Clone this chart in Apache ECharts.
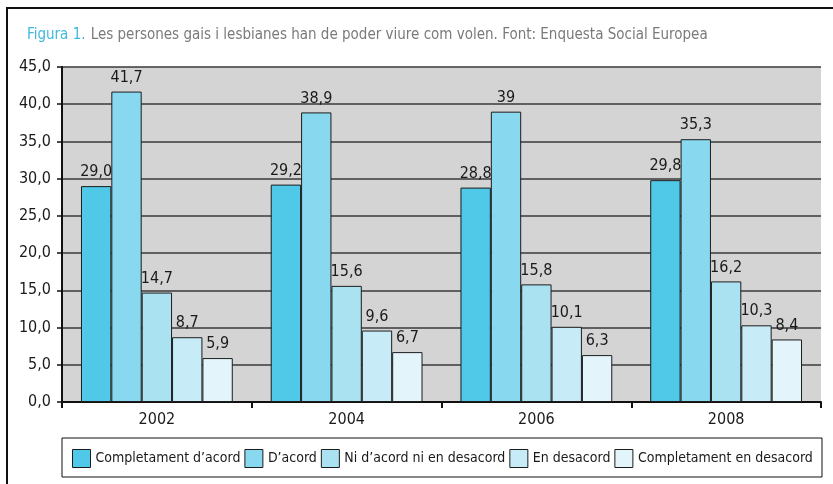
<!DOCTYPE html>
<html>
<head>
<meta charset="utf-8">
<script src="https://cdn.jsdelivr.net/npm/echarts@6/dist/echarts.min.js"></script>
<style>
    html, body { margin: 0; padding: 0; background: #fff; }
    #chart { width: 833px; height: 484px; }
</style>
</head>
<body>
<div id="chart"></div>
<script>
    // dades llegides de la figura
    var years = ['2002', '2004', '2006', '2008'];
    var seriesNames = ['Completament d\u2019acord', 'D\u2019acord', 'Ni d\u2019acord ni en desacord', 'En desacord', 'Completament en desacord'];
    var completAcord = [29.0, 29.2, 28.8, 29.8];
    var acord = [41.7, 38.9, 39, 35.3];
    var niAcord = [14.7, 15.6, 15.8, 16.2];
    var desacord = [8.7, 9.6, 10.1, 10.3];
    var completDesacord = [5.9, 6.7, 6.3, 8.4];
    var barLabels = [
        ['29,0', '29,2', '28,8', '29,8'],
        ['41,7', '38,9', '39', '35,3'],
        ['14,7', '15,6', '15,8', '16,2'],
        ['8,7', '9,6', '10,1', '10,3'],
        ['5,9', '6,7', '6,3', '8,4']
    ];
    var yTicks = ['0,0', '5,0', '10,0', '15,0', '20,0', '25,0', '30,0', '35,0', '40,0', '45,0'];
    var colors = ['#4fc9e7', '#88d8ef', '#abe2f2', '#c8ecf7', '#e3f5fb'];

    var font = '"Liberation Sans Narrow", "DejaVu Sans Condensed", sans-serif';
    var allValues = [completAcord, acord, niAcord, desacord, completDesacord];

    var chart = echarts.init(document.getElementById('chart'));

    var series = allValues.map(function (vals, i) {
        return {
            name: seriesNames[i],
            type: 'bar',
            data: vals,
            barGap: '0%',
            barCategoryGap: '20%',
            itemStyle: { color: colors[i], borderColor: '#1c1c1c', borderWidth: 1 },
            label: {
                show: true,
                position: 'top',
                distance: 6,
                fontFamily: font,
                fontSize: 16,
                color: '#1a1a1a',
                formatter: function (p) { return barLabels[i][p.dataIndex]; }
            }
        };
    });

    chart.setOption({
        animation: false,
        color: colors,
        textStyle: { fontFamily: font },
        title: {
            left: 22,
            top: 21,
            text: '{a|Figura 1.} {b|Les persones gais i lesbianes han de poder viure com volen. Font: Enquesta Social Europea}',
            textStyle: {
                fontWeight: 'normal',
                rich: {
                    a: { color: '#3fb9dc', fontSize: 15, fontFamily: font, fontWeight: 'normal' },
                    b: { color: '#7a7a7a', fontSize: 15, fontFamily: font, fontWeight: 'normal' }
                }
            }
        },
        graphic: [
            {
                type: 'rect',
                shape: { x: 7, y: 8, width: 900, height: 600 },
                style: { fill: 'none', stroke: '#111', lineWidth: 2 }
            },
            {
                type: 'rect',
                shape: { x: 62, y: 438, width: 760, height: 39 },
                style: { fill: '#fff', stroke: '#111', lineWidth: 1 },
                z: -1
            }
        ],
        legend: {
            left: 67,
            top: 444,
            width: 800,
            itemGap: 4,
            itemWidth: 18,
            itemHeight: 18,
            icon: 'rect',
            itemStyle: { borderColor: '#1c1c1c', borderWidth: 1 },
            textStyle: { fontFamily: font, fontSize: 14, color: '#1a1a1a' },
            data: seriesNames
        },
        grid: {
            left: 62,
            right: 12,
            top: 67,
            bottom: 82,
            show: true,
            backgroundColor: '#d4d4d4',
            borderWidth: 0
        },
        xAxis: {
            type: 'category',
            data: years,
            axisLine: { lineStyle: { color: '#111', width: 2 } },
            axisTick: { show: true, length: 6, lineStyle: { color: '#111', width: 2 } },
            axisLabel: { fontFamily: font, fontSize: 16, color: '#1a1a1a', margin: 10 }
        },
        yAxis: {
            type: 'value',
            min: 0,
            max: 45,
            interval: 5,
            axisLine: { show: true, lineStyle: { color: '#111', width: 2 } },
            axisTick: { show: true, length: 5, lineStyle: { color: '#111', width: 1.5 } },
            axisLabel: {
                fontFamily: font,
                fontSize: 16,
                color: '#1a1a1a',
                margin: 11,
                formatter: function (v) { return yTicks[Math.round(v / 5)]; }
            },
            splitLine: { show: true, lineStyle: { color: '#3a3a3a', width: 1.5 } }
        },
        series: series
    });
</script>
</body>
</html>
